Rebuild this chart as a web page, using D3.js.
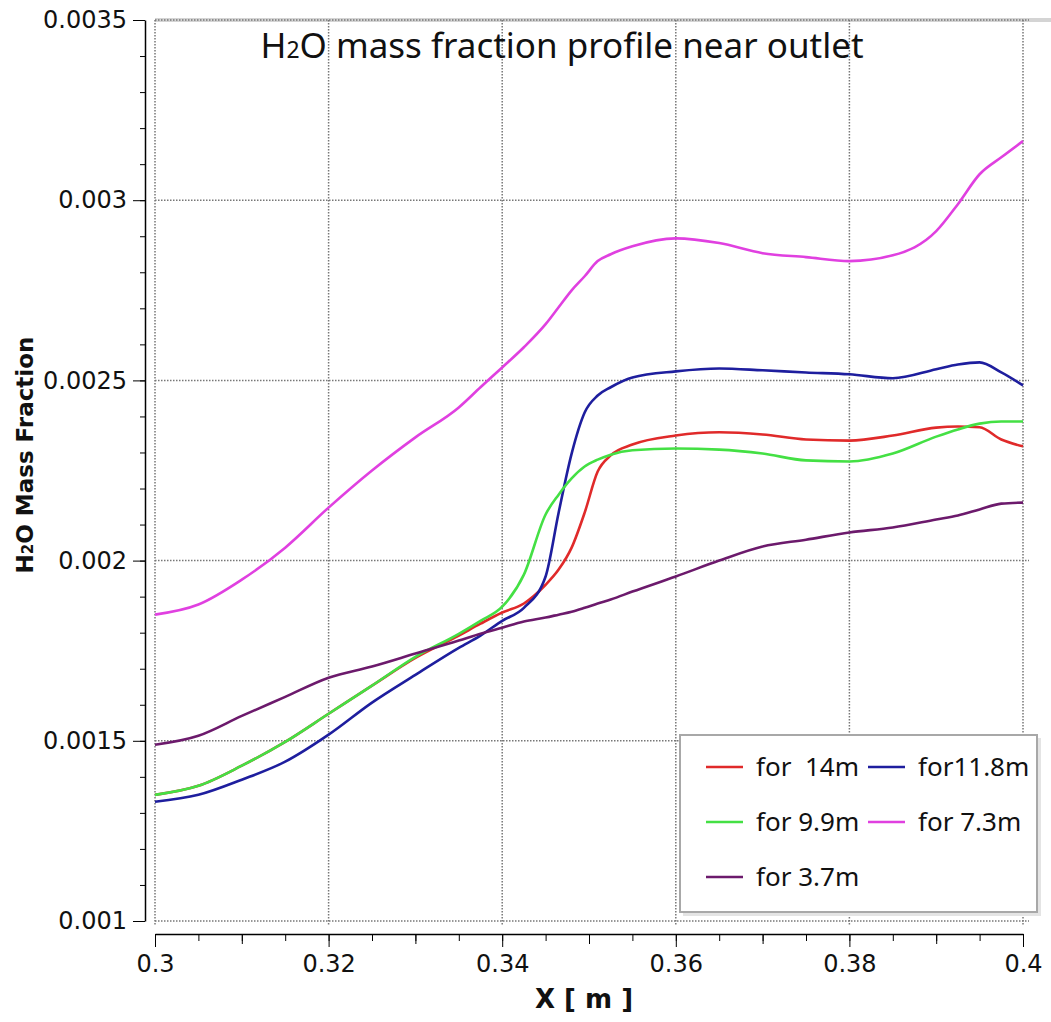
<!DOCTYPE html>
<html>
<head>
<meta charset="utf-8">
<script src="https://cdn.jsdelivr.net/npm/d3@7"></script>
<style>
  body { margin: 0; background: #fff; }
  svg { display: block; }
  .tick text { font-family: "DejaVu Sans", sans-serif; font-size: 24px; fill: #111; }
</style>
</head>
<body>
<div id="chart"></div>
<script>
// x positions [m], shared by every profile
var xValues = [0.300, 0.305, 0.310, 0.315, 0.320, 0.325, 0.330, 0.335, 0.3375, 0.340,
  0.3425, 0.345, 0.3465, 0.348, 0.3495, 0.351, 0.3525, 0.355, 0.360, 0.365,
  0.370, 0.375, 0.380, 0.385, 0.390, 0.3925, 0.395, 0.3975, 0.400];

var for14m = [0.00135, 0.001375, 0.001431, 0.001497, 0.001575, 0.001653, 0.00173, 0.001792, 0.001825, 0.001856,
  0.001881, 0.001933, 0.001975, 0.002036, 0.002133, 0.002247, 0.002292, 0.002322, 0.002347, 0.002356,
  0.00235, 0.002336, 0.002333, 0.002347, 0.002369, 0.002372, 0.00237, 0.002336, 0.002317];

var for11_8m = [0.001331, 0.00135, 0.001392, 0.001442, 0.001517, 0.001606, 0.001683, 0.001758, 0.001792, 0.001833,
  0.001869, 0.001956, 0.002133, 0.002297, 0.002411, 0.002458, 0.002481, 0.002508, 0.002525, 0.002533,
  0.002528, 0.002522, 0.002517, 0.002506, 0.002531, 0.002544, 0.00255, 0.002522, 0.002486];

var for9_9m = [0.00135, 0.001375, 0.001431, 0.001497, 0.001575, 0.001653, 0.001733, 0.001797, 0.001833, 0.001872,
  0.001961, 0.002128, 0.002183, 0.002228, 0.002261, 0.00228, 0.002294, 0.002306, 0.002311, 0.002308,
  0.002297, 0.002278, 0.002275, 0.002297, 0.002344, 0.002364, 0.00238, 0.002386, 0.002386];

var for7_3m = [0.00185, 0.001878, 0.001947, 0.002036, 0.002147, 0.00225, 0.002342, 0.002425, 0.002481, 0.002536,
  0.002592, 0.002656, 0.002703, 0.00275, 0.002789, 0.002831, 0.00285, 0.002872, 0.002894, 0.002881,
  0.002853, 0.002842, 0.002831, 0.002847, 0.002914, 0.002989, 0.003072, 0.003119, 0.003164];

var for3_7m = [0.001489, 0.001514, 0.001569, 0.001622, 0.001675, 0.001706, 0.001742, 0.001778, 0.001797, 0.001814,
  0.001831, 0.001842, 0.00185, 0.001858, 0.001869, 0.001881, 0.001892, 0.001914, 0.001956, 0.002,
  0.002039, 0.002058, 0.002078, 0.002092, 0.002114, 0.002125, 0.002142, 0.002158, 0.002161];

var seriesNames = ["for  14m", "for11.8m", "for 9.9m", "for 7.3m", "for 3.7m"];
var seriesColors = ["#e02a2a", "#1e1e9e", "#44e044", "#e040e0", "#6c1a6c"];
var seriesValues = [for14m, for11_8m, for9_9m, for7_3m, for3_7m];

var xMajorTicks = [0.3, 0.32, 0.34, 0.36, 0.38, 0.4];
var yMajorTicks = [0.001, 0.0015, 0.002, 0.0025, 0.003, 0.0035];

var width = 1051, height = 1022;
var plotLeft = 155, plotRight = 1023, plotTop = 20, plotBottom = 921;

var svg = d3.select("#chart").append("svg")
  .attr("width", width)
  .attr("height", height);

var x = d3.scaleLinear().domain([0.3, 0.4]).range([plotLeft, plotRight]);
var y = d3.scaleLinear().domain([0.001, 0.0035]).range([plotBottom, plotTop]);

/* grid */
var grid = svg.append("g").attr("class", "grid");
grid.append("line")
  .attr("x1", plotLeft).attr("x2", width).attr("y1", plotTop).attr("y2", plotTop)
  .attr("stroke", "#d4d4d4").attr("stroke-width", 4);
grid.selectAll(".gx").data(xMajorTicks).enter().append("line")
  .attr("x1", d => x(d)).attr("x2", d => x(d))
  .attr("y1", plotTop).attr("y2", plotBottom + 4)
  .attr("stroke", "#777").attr("stroke-width", 1.5)
  .attr("stroke-dasharray", "1.5,1.5");
grid.selectAll(".gy").data(yMajorTicks).enter().append("line")
  .attr("x1", plotLeft).attr("x2", plotRight + 6)
  .attr("y1", d => y(d)).attr("y2", d => y(d))
  .attr("stroke", "#777").attr("stroke-width", 1.5)
  .attr("stroke-dasharray", "1.5,1.5");

/* axes, set slightly apart from the plot */
var yMinor = d3.range(0.001, 0.00351, 0.0001);
svg.append("g")
  .attr("transform", "translate(145,0)")
  .call(d3.axisLeft(y).tickValues(yMinor).tickSize(5).tickFormat(""))
  .call(g => g.select(".domain").remove());
svg.append("g")
  .attr("transform", "translate(145,0)")
  .call(d3.axisLeft(y).tickValues(yMajorTicks).tickSize(12).tickSizeOuter(0).tickPadding(6)
    .tickFormat(d => String(+d.toFixed(4))))
  .call(g => g.select(".domain").attr("stroke-width", 1.5));

var xMinor = d3.range(0.3, 0.4001, 0.005);
svg.append("g")
  .attr("transform", "translate(0,934)")
  .call(d3.axisBottom(x).tickValues(xMinor).tickSize(7).tickFormat(""))
  .call(g => g.select(".domain").remove());
svg.append("g")
  .attr("transform", "translate(0,934)")
  .call(d3.axisBottom(x).tickValues(d3.range(0.31, 0.4, 0.02)).tickSize(10).tickFormat(""))
  .call(g => g.select(".domain").remove());
svg.append("g")
  .attr("transform", "translate(0,934)")
  .call(d3.axisBottom(x).tickValues(xMajorTicks).tickSize(13).tickSizeOuter(0).tickPadding(8)
    .tickFormat(d => String(+d.toFixed(2))))
  .call(g => g.select(".domain").attr("stroke-width", 1.5));

/* lines */
var line = d3.line()
  .curve(d3.curveMonotoneX)
  .x((d, i) => x(xValues[i]))
  .y(d => y(d));

svg.append("g").attr("class", "lines")
  .selectAll("path")
  .data(seriesValues)
  .enter()
  .append("path")
  .attr("d", d => line(d))
  .attr("fill", "none")
  .attr("stroke", (d, i) => seriesColors[i])
  .attr("stroke-width", 2.6)
  .attr("stroke-linejoin", "round");

/* titles */
var title = svg.append("text")
  .attr("x", 562).attr("y", 58)
  .attr("text-anchor", "middle")
  .style("font-family", "'Noto Sans', sans-serif")
  .style("font-size", "35px")
  .style("fill", "#111");
title.append("tspan").text("H");
title.append("tspan").style("font-size", "23px").text("2");
title.append("tspan").text("O mass fraction profile near outlet");

var yTitle = svg.append("text")
  .attr("transform", "translate(33,455) rotate(-90)")
  .attr("text-anchor", "middle")
  .style("font-family", "'DejaVu Sans', sans-serif")
  .style("font-weight", "bold")
  .style("font-size", "23px")
  .style("fill", "#111");
yTitle.append("tspan").text("H");
yTitle.append("tspan").style("font-size", "15px").text("2");
yTitle.append("tspan").text("O Mass Fraction");

svg.append("text")
  .attr("x", 584).attr("y", 1008)
  .attr("text-anchor", "middle")
  .style("font-family", "'DejaVu Sans', sans-serif")
  .style("font-weight", "bold")
  .style("font-size", "26px")
  .style("fill", "#111")
  .text("X [ m ]");

/* legend */
var legend = svg.append("g").attr("class", "legend");
legend.append("rect")
  .attr("x", 683).attr("y", 738).attr("width", 358).attr("height", 178)
  .attr("fill", "#e4e4e4");
legend.append("rect")
  .attr("x", 680).attr("y", 735).attr("width", 357).attr("height", 177)
  .attr("fill", "#fff").attr("stroke", "#a8a8a8").attr("stroke-width", 2);

var legendPos = [[706, 767], [868, 767], [706, 822], [868, 822], [706, 877]];
var items = legend.selectAll(".item").data(seriesNames).enter().append("g")
  .attr("transform", (d, i) => `translate(${legendPos[i][0]},${legendPos[i][1]})`);
items.append("line")
  .attr("x1", 0).attr("x2", 37)
  .attr("stroke", (d, i) => seriesColors[i])
  .attr("stroke-width", 2.6);
items.append("text")
  .attr("x", 50).attr("dy", "0.36em")
  .attr("xml:space", "preserve")
  .style("white-space", "pre")
  .style("font-family", "'Noto Sans', sans-serif")
  .style("font-size", "26px")
  .style("fill", "#111")
  .text(d => d);
</script>
</body>
</html>
